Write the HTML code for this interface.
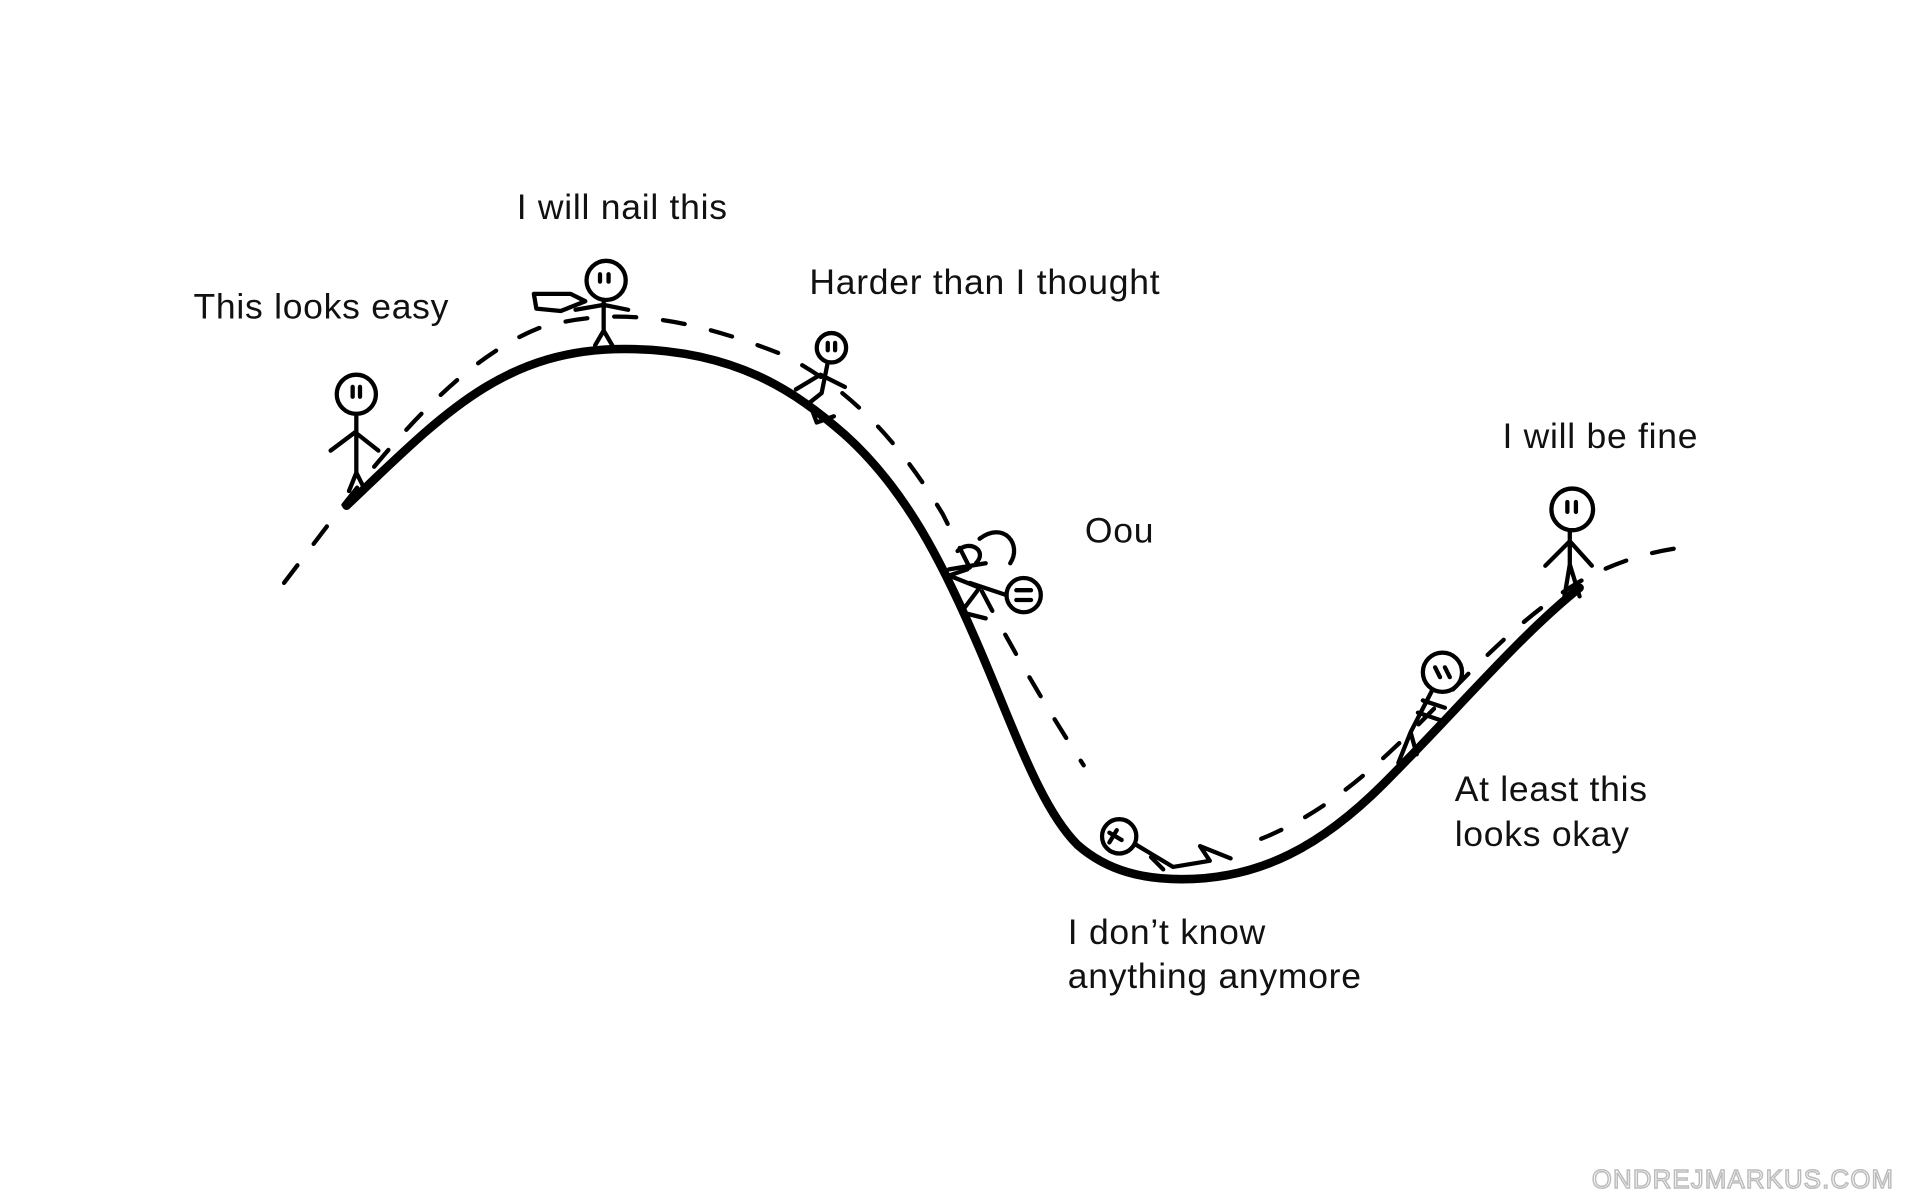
<!DOCTYPE html>
<html><head><meta charset="utf-8"><style>
html,body{margin:0;padding:0;background:#fff;width:1920px;height:1200px;overflow:hidden}
svg{display:block}
text{font-family:"Liberation Sans",sans-serif;font-size:29px;letter-spacing:0.6px;fill:#111}
</style></head><body>
<svg width="1920" height="1200" viewBox="0 0 1568 980" xmlns="http://www.w3.org/2000/svg">
<g fill="none" stroke="#000" stroke-linecap="round" stroke-linejoin="round">
<path d="M283,413 C360,340 410,285 510,285 C600,285 650,320 690,355 C740,400 770,460 800,530 C830,600 850,660 880,690 C905,712 935,718 965,718 C1030,718 1080,690 1130,640 C1190,580 1240,520 1290,480" stroke-width="7"/>
<path d="M232,476 C290,400 360,300 440,268 C500,250 560,258 640,290 C700,320 740,370 770,420 C800,480 830,540 885,625" stroke-width="3.5" stroke-dasharray="18,22"/>
<path d="M1030,685 C1080,665 1120,630 1160,590 C1200,550 1240,505 1290,475 C1320,458 1350,450 1375,447" stroke-width="3.5" stroke-dasharray="18,22"/>
<g stroke-width="3.5"><circle cx="291" cy="322" r="16"/><path d="M288,316v8M294,316v8"/><path d="M291,338v48M270,368l20,-15l19,15M291,386l-6,15M291,386l6,12l-10,10"/></g>
<g stroke-width="3.5"><circle cx="495" cy="229" r="16"/><path d="M490,224v6M497,224v6"/><path d="M493,245v25M486,282l7,-12l7,12M470,253l23,-4l20,4"/><path d="M436,240l30,0l12,6l-20,8l-20,-2z"/></g>
<g stroke-width="3.5"><circle cx="679" cy="284" r="12"/><path d="M676,280v6M682,280v6"/><path d="M676,296l-5,25M650,318l20,-12l20,10M671,321l-10,8l6,16l14,-5"/></g>
<g stroke-width="3.5"><circle cx="836" cy="486" r="14"/><path d="M830,482h12M830,490h12"/><path d="M822,486l-30,-10M800,440c20,-15 35,5 25,20M782,450c10,-10 25,0 15,10M790,465l-15,5l25,10l-15,20l20,5M775,465l30,-5"/></g>
<g stroke-width="3.5"><circle cx="914" cy="683" r="14"/><path d="M906,680l10,6M912,678l-6,10"/><path d="M928,690l30,18l30,-5l-8,-12l25,10M940,700l10,10"/></g>
<g stroke-width="3.5"><circle cx="1178" cy="549" r="16"/><path d="M1172,545l4,8M1180,545l4,8"/><path d="M1170,563l-18,35M1162,572l18,6M1158,582l18,6M1152,598l-10,25M1152,598l5,18"/></g>
<g stroke-width="3.5"><circle cx="1284" cy="416" r="17"/><path d="M1280,410v8M1287,410v8"/><path d="M1282,433v28M1262,462l20,-20l18,20M1282,461l-5,30M1282,461l8,26"/></g>
</g>
<text x="158" y="260">This looks easy</text>
<text x="422" y="179">I will nail this</text>
<text x="661" y="240">Harder than I thought</text>
<text x="886" y="443">Oou</text>
<text x="1227" y="366">I will be fine</text>
<text x="1188" y="654">At least this</text>
<text x="1188" y="691">looks okay</text>
<text x="872" y="771">I don’t know</text>
<text x="872" y="807">anything anymore</text>
<text x="1300" y="970" style="font-size:21px;fill:#fff;stroke:#bbb;stroke-width:1.2;letter-spacing:1px">ONDREJMARKUS.COM</text>
</svg>
</body></html>
